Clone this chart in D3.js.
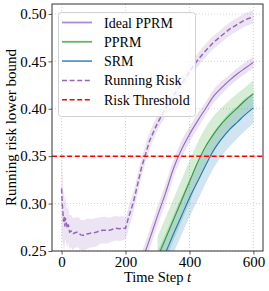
<!DOCTYPE html>
<html>
<head>
<meta charset="utf-8">
<script src="https://cdn.jsdelivr.net/npm/d3@7"></script>
<style>
  body { margin: 0; background: #fff; }
  text { font-family: "Liberation Serif", "DejaVu Serif", serif; fill: #000; }
</style>
</head>
<body>
<div id="chart"></div>
<script>
// running risk (dashed) - time steps and values
var rrT = [0, 2, 4, 6, 8, 10, 12, 15, 18, 21, 25, 30, 35, 40, 50, 60, 70, 80, 90, 100,
  110, 120, 130, 140, 150, 160, 170, 180, 190, 200, 210, 225, 250, 275, 300, 325, 350,
  375, 400, 425, 450, 475, 500, 525, 550, 575, 600];
var rrV = [0.316, 0.300, 0.292, 0.281, 0.286, 0.276, 0.285, 0.279, 0.274, 0.278, 0.270, 0.271,
  0.268, 0.269, 0.270, 0.267, 0.2665, 0.268, 0.2688, 0.269, 0.270, 0.2715, 0.272, 0.2718,
  0.272, 0.273, 0.274, 0.2735, 0.274, 0.274, 0.286, 0.302, 0.338, 0.366, 0.385, 0.400, 0.414,
  0.426, 0.439, 0.451, 0.461, 0.470, 0.477, 0.484, 0.489, 0.494, 0.497];
var rrSd = [0.05, 0.04, 0.035, 0.03, 0.027, 0.025, 0.023, 0.021, 0.02, 0.019, 0.018, 0.017,
  0.017, 0.016, 0.016, 0.016, 0.016, 0.016, 0.015, 0.015, 0.015, 0.014, 0.014, 0.014, 0.013,
  0.013, 0.013, 0.013, 0.013, 0.012, 0.012, 0.011, 0.010, 0.009, 0.008, 0.008, 0.007,
  0.007, 0.007, 0.007, 0.007, 0.007, 0.007, 0.007, 0.007, 0.007, 0.007];

// learning curves from t = 250 / 300 on
var idealT = [250, 275, 300, 325, 350, 375, 400, 425, 450, 475, 500, 525, 550, 575, 600];
var idealV = [0.238, 0.262, 0.287, 0.311, 0.337, 0.357, 0.373, 0.387, 0.400, 0.413, 0.422,
  0.430, 0.437, 0.443, 0.449];
var idealSd = [0.010, 0.010, 0.010, 0.010, 0.009, 0.009, 0.008, 0.008, 0.007, 0.007, 0.007,
  0.006, 0.006, 0.006, 0.006];

var curveT = [300, 325, 350, 375, 400, 425, 450, 475, 500, 525, 550, 575, 600];
var pprmV = [0.243, 0.263, 0.283, 0.303, 0.323, 0.343, 0.360, 0.373, 0.384, 0.393, 0.401,
  0.409, 0.416];
var pprmSd = [0.022, 0.022, 0.022, 0.022, 0.022, 0.021, 0.020, 0.019, 0.017, 0.016, 0.015,
  0.014, 0.014];
var srmV = [0.229, 0.248, 0.268, 0.287, 0.306, 0.323, 0.340, 0.356, 0.368, 0.378, 0.386,
  0.394, 0.401];
var srmSd = [0.020, 0.020, 0.020, 0.020, 0.020, 0.020, 0.019, 0.019, 0.018, 0.018, 0.017,
  0.017, 0.016];

var threshold = 0.35;
var xTicks = [0, 200, 400, 600];
var yTicks = [0.25, 0.30, 0.35, 0.40, 0.45, 0.50];

var legendItems = [
  {label: "Ideal PPRM", color: "#9467bd", dash: null},
  {label: "PPRM", color: "#2ca02c", dash: null},
  {label: "SRM", color: "#1f77b4", dash: null},
  {label: "Running Risk", color: "#9467bd", dash: "5,2.6"},
  {label: "Risk Threshold", color: "#ff0000", dash: "5,2.6"}
];

var width = 269, height = 291;
var plot = {left: 52, right: 263, top: 4, bottom: 251};

var svg = d3.select("#chart").append("svg")
  .attr("width", width)
  .attr("height", height);

var x = d3.scaleLinear().domain([-30, 630]).range([plot.left, plot.right]);
var y = d3.scaleLinear().domain([0.25, 0.5105]).range([plot.bottom, plot.top]);

svg.append("clipPath").attr("id", "clip")
  .append("rect")
  .attr("x", plot.left).attr("y", plot.top)
  .attr("width", plot.right - plot.left).attr("height", plot.bottom - plot.top);

// grid
var grid = svg.append("g");
grid.selectAll(".gx").data(xTicks).enter().append("line")
  .attr("x1", d => x(d)).attr("x2", d => x(d))
  .attr("y1", plot.top).attr("y2", plot.bottom)
  .attr("stroke", "#c8c8c8").attr("stroke-width", 0.8).attr("stroke-dasharray", "1,2");
grid.selectAll(".gy").data(yTicks).enter().append("line")
  .attr("x1", plot.left).attr("x2", plot.right)
  .attr("y1", d => y(d)).attr("y2", d => y(d))
  .attr("stroke", "#c8c8c8").attr("stroke-width", 0.8).attr("stroke-dasharray", "1,2");

var g = svg.append("g").attr("clip-path", "url(#clip)");

function bandOf(ts, vs, sds) {
  return ts.map((t, i) => ({t: t, lo: vs[i] - sds[i], hi: vs[i] + sds[i]}));
}
function lineOf(ts, vs) {
  return ts.map((t, i) => ({t: t, v: vs[i]}));
}

var area = d3.area().curve(d3.curveMonotoneX)
  .x(d => x(d.t)).y0(d => y(d.lo)).y1(d => y(d.hi));
var line = d3.line().curve(d3.curveMonotoneX)
  .x(d => x(d.t)).y(d => y(d.v));

// bands
g.append("path").datum(bandOf(rrT, rrV, rrSd)).attr("d", area)
  .attr("fill", "#9467bd").attr("fill-opacity", 0.18);
g.append("path").datum(bandOf(idealT, idealV, idealSd)).attr("d", area)
  .attr("fill", "#9467bd").attr("fill-opacity", 0.2);
g.append("path").datum(bandOf(curveT, pprmV, pprmSd)).attr("d", area)
  .attr("fill", "#2ca02c").attr("fill-opacity", 0.2);
g.append("path").datum(bandOf(curveT, srmV, srmSd)).attr("d", area)
  .attr("fill", "#1f77b4").attr("fill-opacity", 0.2);

// lines
g.append("path").datum(lineOf(idealT, idealV)).attr("d", line)
  .attr("fill", "none").attr("stroke", "#9467bd").attr("stroke-width", 1.1);
g.append("path").datum(lineOf(curveT, pprmV)).attr("d", line)
  .attr("fill", "none").attr("stroke", "#2ca02c").attr("stroke-width", 1.1);
g.append("path").datum(lineOf(curveT, srmV)).attr("d", line)
  .attr("fill", "none").attr("stroke", "#1f77b4").attr("stroke-width", 1.1);
g.append("path").datum(lineOf(rrT, rrV)).attr("d", d3.line().x(d => x(d.t)).y(d => y(d.v)))
  .attr("fill", "none").attr("stroke", "#9467bd").attr("stroke-width", 1.5)
  .attr("stroke-dasharray", "5,2.6");

// threshold
g.append("line")
  .attr("x1", plot.left).attr("x2", plot.right)
  .attr("y1", y(threshold)).attr("y2", y(threshold))
  .attr("stroke", "#ff0000").attr("stroke-width", 1.5).attr("stroke-dasharray", "5,2.6");

// axes
var xAxis = svg.append("g")
  .attr("transform", `translate(0, ${plot.bottom})`)
  .call(d3.axisBottom(x).tickValues(xTicks).tickSize(3.5).tickPadding(2));
var yAxis = svg.append("g")
  .attr("transform", `translate(${plot.left}, 0)`)
  .call(d3.axisLeft(y).tickValues(yTicks).tickFormat(d3.format(".2f")).tickSize(3.5).tickPadding(2));
[xAxis, yAxis].forEach(function(a) {
  a.select(".domain").remove();
  a.selectAll("line").attr("stroke", "#333").attr("stroke-width", 0.8);
  a.selectAll("text").attr("font-size", "15px").attr("fill", "#000")
    .style("font-family", '"Liberation Serif", serif');
});

// frame
svg.append("rect")
  .attr("x", plot.left).attr("y", plot.top)
  .attr("width", plot.right - plot.left).attr("height", plot.bottom - plot.top)
  .attr("fill", "none").attr("stroke", "#333").attr("stroke-width", 1);

// axis labels
var xl = svg.append("text")
  .attr("x", (plot.left + plot.right) / 2).attr("y", 282)
  .attr("text-anchor", "middle").attr("font-size", "14.5px");
xl.append("tspan").text("Time Step ");
xl.append("tspan").attr("font-style", "italic").text("t");

svg.append("text")
  .attr("transform", `translate(16, ${(plot.top + plot.bottom) / 2}) rotate(-90)`)
  .attr("text-anchor", "middle").attr("font-size", "15px")
  .text("Running risk lower bound");

// legend
var leg = svg.append("g");
leg.append("rect")
  .attr("x", 58.5).attr("y", 12.5).attr("width", 137).attr("height", 104)
  .attr("rx", 3).attr("fill", "#fff").attr("fill-opacity", 0.8)
  .attr("stroke", "#d0d0d0").attr("stroke-width", 1);
var rows = leg.selectAll(".row").data(legendItems).enter().append("g")
  .attr("transform", (d, i) => `translate(0, ${22.5 + i * 19.3})`);
rows.append("line")
  .attr("x1", 62).attr("x2", 92).attr("y1", 0).attr("y2", 0)
  .attr("stroke", d => d.color)
  .attr("stroke-width", d => d.dash ? 1.5 : 1.8)
  .attr("stroke-opacity", d => d.dash ? 1 : 0.75)
  .attr("stroke-dasharray", d => d.dash);
rows.append("text")
  .attr("x", 104).attr("y", 5).attr("font-size", "14px")
  .text(d => d.label);
</script>
</body>
</html>
